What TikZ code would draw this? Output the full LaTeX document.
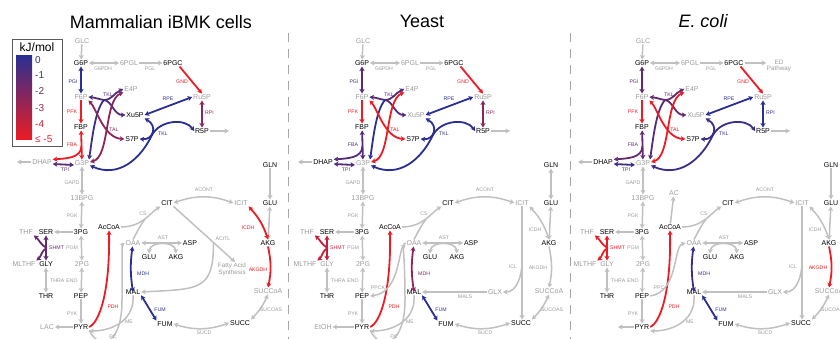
\documentclass[tikz,border=0pt]{standalone}
\usepackage{fontspec}
\setmainfont{Liberation Sans}
\usetikzlibrary{arrows.meta,calc}
\definecolor{kb}{RGB}{43,47,145}
\definecolor{kr}{RGB}{237,28,36}
\colorlet{k1}{kr!20!kb}
\colorlet{k2}{kr!40!kb}
\colorlet{k3}{kr!60!kb}
\colorlet{k4}{kr!80!kb}
\definecolor{tg}{RGB}{155,155,155}
\definecolor{ag}{RGB}{192,192,192}
\definecolor{sepc}{RGB}{165,165,165}
\definecolor{boxc}{RGB}{90,90,90}
\tikzset{
  hd/.tip={Stealth[length=4.5pt,width=5pt,inset=1.2pt]},
  met/.style={font=\fontsize{7}{8}\selectfont, inner sep=0.8pt, text=black},
  gmet/.style={met, text=tg},
  smalltxt/.style={font=\fontsize{6.3}{6.8}\selectfont, text=tg, align=center, inner sep=0.5pt},
  enz/.style={font=\fontsize{5.2}{6}\selectfont, inner sep=0pt},
  genz/.style={enz, text=tg},
  ga/.style={draw=ag, line width=1.5pt, -hd},
  gd/.style={draw=ag, line width=1.5pt, hd-hd},
  gl/.style={draw=ag, line width=1.5pt},
  ca/.style={draw=#1, line width=1.8pt, -hd},
  cd/.style={draw=#1, line width=1.8pt, hd-hd},
  ttl/.style={font=\fontsize{18}{20}\selectfont},
  legtxt/.style={font=\fontsize{10}{11}\selectfont, anchor=west, inner sep=0pt},
  sepline/.style={draw=sepc, line width=0.9pt, dash pattern=on 9pt off 7pt},
}
\newcommand\pancommon{%
\node[gmet] (glc) at (82,41) {GLC};
\node[met] (g6p) at (81,63) {G6P};
\node[gmet] (pgl6) at (129,63) {6PGL};
\node[met] (pgc6) at (173,63) {6PGC};
\node[gmet] (f6p) at (81,97) {F6P};
\node[met] (fbp) at (81,127) {FBP};
\node[gmet] (g3p) at (82,163) {G3P};
\node[met,text=\cDHAP] (dhap) at (42,162) {DHAP};
\node[gmet] (e4p) at (131,89) {E4P};
\node[met,text=\cXu] (xu5p) at (135,115) {Xu5P};
\node[met] (s7p) at (132,139) {S7P};
\node[gmet] (ru5p) at (202,97) {Ru5P};
\node[met] (r5p) at (202,131) {R5P};
\node[gmet] (bpg13) at (82,198) {13BPG};
\node[met] (pg3) at (81,232) {3PG};
\node[met] (ser) at (46,232) {SER};
\node[gmet] (thf) at (26,232) {THF};
\node[met,text=\cGLY] (gly) at (46,264) {GLY};
\node[gmet] (mlthf) at (24,264) {MLTHF};
\node[gmet] (pg2) at (82,264) {2PG};
\node[met] (pep) at (81,296) {PEP};
\node[met] (thr) at (46,296) {THR};
\node[met] (pyr) at (81,327) {PYR};
\node[met] (acoa) at (109,227) {AcCoA};
\node[met] (cit) at (167,203) {CIT};
\node[gmet] (icit) at (241,203) {ICIT};
\node[met] (akg) at (268,243) {AKG};
\node[met] (glu) at (270,203) {GLU};
\node[met] (gln) at (270,165) {GLN};
\node[gmet] (succoa) at (268,291) {SUCCoA};
\node[met] (succ) at (240,323) {SUCC};
\node[met] (fum) at (165,324) {FUM};
\node[met] (mal) at (133,292) {MAL};
\node[gmet] (oaa) at (133,243) {OAA};
\node[met] (asp) at (190,243) {ASP};
\node[met] (glua) at (149,257) {GLU};
\node[met] (akga) at (176,257) {AKG};
% upper glycolysis and PPP
\draw[ga] (glc) -- (g6p);
\draw[gd] (g6p) -- (pgl6);
\node[genz] (l-g6pdh) at (103,69) {G6PDH};
\draw[ga] (pgl6) -- (pgc6);
\node[genz] (l-pgl) at (150,69) {PGL};
\draw[ca=\cGND] ([xshift=-4pt]pgc6.south east) -- (ru5p.north);
\node[enz,text=\cGND] (l-gnd) at (182,82) {GND};
\draw[cd=\cRPI] (ru5p) -- (r5p);
\node[enz,text=\cRPI,anchor=west] (l-rpi) at (205,113) {RPI};
\coordinate (r5pout) at (229,131);
\draw[ga] (r5p) -- (r5pout);
\draw[cd=\cPGI] (g6p) -- (f6p);
\node[enz,text=\cPGI] (l-pgi) at (73,82) {PGI};
\draw[ca=\cPFK] (f6p) -- (fbp);
\node[enz,text=\cPFK] (l-pfk) at (72,112) {PFK};
\draw[cd=\cFBA] (fbp) -- (g3p);
\coordinate (fbaj) at (81.5,146);
\draw[ca=\cFBA] (fbaj) to[out=-90,in=5] ([yshift=2.5pt]dhap.east);
\node[enz,text=\cFBA] (l-fba) at (72,145) {FBA};
\draw[cd=\cTPI] ([yshift=-2pt]dhap.east) -- ([yshift=-2pt]g3p.west);
\node[enz,text=\cTPI] (l-tpi) at (65,169.5) {TPI};
\coordinate (dhapout) at (17,162);
\draw[ga] (dhap) -- (dhapout);
% TKL (F6P/E4P/Xu5P/G3P)
\coordinate (tkj) at (104,100);
\draw[ca=\cTKL] (tkj) to[out=170,in=-5] (f6p.east);
\draw[ca=\cTKL] (tkj) .. controls (112,100) and (114,93) .. (e4p.west);
\draw[ca=\cTKL] (tkj) .. controls (112,101) and (114,115) .. (xu5p.west);
\draw[ca=\cTKLt] (tkj) .. controls (95,110) and (92,140) .. ([xshift=-1pt]g3p.north east);
\node[enz,text=\cTKL] (l-tkl) at (108,95) {TKL};
% TAL
\draw[cd=\cTAL] (f6p.south east) .. controls (96,108) and (104,138) .. (s7p.west);
\draw[cd=\cTAL] ([yshift=1pt]g3p.east) .. controls (110,157) and (104,100) .. (e4p.south west);
\node[enz,text=\cTAL] (l-tal) at (114,130) {TAL};
% TKL (Xu5P/S7P/R5P/G3P)
\draw[cd=\cTKLb] (xu5p.south east) .. controls (158,126) and (153,140) .. (s7p.east);
\draw[cd=\cTKLb] ([yshift=-2.5pt]g3p.east) .. controls (118,178) and (140,160) .. (152,135) .. controls (160,120) and (185,118) .. (r5p.west);
\node[enz,text=\cTKLb] (l-tkl2) at (163,134) {TKL};
% RPE
\draw[cd=\cRPE] (xu5p.east) -- (ru5p.west);
\node[enz,text=\cRPE] (l-rpe) at (168,99) {RPE};
% lower glycolysis
\draw[gd] (g3p) -- (bpg13);
\node[genz] (l-gapd) at (72,183) {GAPD};
\draw[gd] (bpg13) -- (pg3);
\node[genz] (l-pgk) at (72,216) {PGK};
\draw[gd] (pg3) -- (pg2);
\node[genz] (l-pgm) at (72,248) {PGM};
\draw[gd] (pg2) -- (pep);
\node[genz] (l-eno) at (72,281) {ENO};
\draw[ga] (pep) -- (pyr);
\node[genz] (l-pyk) at (72,314) {PYK};
% serine / glycine
\draw[ga] (pg3) -- (ser);
\draw[cd=\cSHMT] (ser) -- (gly);
\coordinate (shj) at (46.5,248);
\draw[ca=\cSHMT] (shj) to[out=150,in=-40] (thf.south east);
\draw[ca=\cSHMT] (shj) to[out=-150,in=40] (mlthf.north east);
\node[enz,text=\cSHMT,anchor=west] (l-shmt) at (49,248) {SHMT};
\draw[gd] (gly) -- (thr);
\node[genz,anchor=west] (l-thra) at (50,281) {THRA};
% PDH
\draw[ca=\cPDH] (pyr.east) .. controls (100,322) and (110,290) .. (acoa.south);
\node[enz,text=\cPDH] (l-pdh) at (113,307) {PDH};
% TCA
\draw[ga] (acoa.east) .. controls (142,227) and (150,213) .. (cit.south west);
\coordinate (csj) at (145,219.3);
\draw[gl] (oaa.north) .. controls (137,232) and (141,224) .. (csj);
\node[genz] (l-cs) at (143,214) {CS};
\draw[gd] (cit.east) to[bend left=20] (icit.west);
\node[genz] (l-acont) at (204,190) {ACONT};
\draw[cd=\cMDH] (oaa) to[bend right=8] (mal);
\node[enz,text=\cMDH,anchor=west] (l-mdh) at (137,274) {MDH};
\draw[cd=\cFUM] (mal.south east) -- (fum.north west);
\node[enz,text=\cFUM] (l-fum) at (160,310) {FUM};
\draw[gd] (fum.east) to[bend right=18] (succ.west);
\node[genz] (l-sucd) at (204,333) {SUCD};
\draw[gd] (succoa.south) to[bend left=10] (succ.north east);
\node[genz] (l-sucoas) at (271,310) {SUCOAS};
\draw[gd] (oaa.east) -- (asp.west);
\node[genz] (l-ast) at (163,238) {AST};
\draw[gd] (glua.north) .. controls (150,241) and (175,241) .. (akga.north);
\draw[gd] (glu) -- (akg);
\draw[ga] (mal.south) .. controls (135,318) and (115,331) .. ([yshift=-4pt]pyr.east);
\node[genz] (l-me) at (129,322) {ME};
}
\begin{document}
\begin{tikzpicture}[x=1pt,y=-1pt]
\useasboundingbox (0,0) rectangle (840,339);
\clip (0,0) rectangle (840,339);
% titles
\node[ttl] (t1) at (161,22) {Mammalian iBMK cells};
\node[ttl] (t2) at (422,21) {Yeast};
\node[ttl,font=\fontsize{18}{20}\selectfont\itshape] (t3) at (703,21) {E. coli};
% separators
\coordinate (s1a) at (288,33); \coordinate (s1b) at (288,339);
\coordinate (s2a) at (570,33); \coordinate (s2b) at (570,339);
\draw[sepline] (s1a) -- (s1b);
\draw[sepline] (s2a) -- (s2b);
% legend
\node[draw=boxc, line width=0.9pt, minimum width=50pt, minimum height=107pt, inner sep=0pt] (legbox) at (37,92.5) {};
\node[font=\fontsize{12}{13}\selectfont, inner sep=0pt] (legt) at (37,47) {kJ/mol};
\shade[top color=kb, bottom color=kr] (16,56) rectangle (32,140);
\node[legtxt,text=kb] (lg0) at (35,60) {0};
\node[legtxt,text=k1] (lg1) at (35,75.5) {-1};
\node[legtxt,text=k2] (lg2) at (35,91.5) {-2};
\node[legtxt,text=k3] (lg3) at (35,108) {-3};
\node[legtxt,text=k4] (lg4) at (35,124) {-4};
\node[legtxt,text=kr] (lg5) at (35,139.5) {≤ -5};
% ---------------- Mammalian
\begin{scope}[name prefix=m-]
\def\cGND{kr}\def\cRPI{k2!50!k3}\def\cPGI{kb}\def\cPFK{kr}\def\cFBA{kr}\def\cTPI{k1}
\def\cTKL{k1}\def\cTKLt{kb!50!k1}\def\cTAL{k2!50!k3}\def\cTKLb{kb}\def\cRPE{kb}
\def\cSHMT{k1!50!k2}\def\cPDH{kr}\def\cMDH{kb}\def\cFUM{kb}
\def\cDHAP{tg}\def\cXu{black}\def\cGLY{black}
\pancommon
\node[gmet] (lac) at (47,327) {LAC};
\draw[ga] (pyr) -- (lac);
\draw[ga] (gln) -- (glu);
\draw[cd=kr] (icit.south east) to[bend left=12] (akg.north);
\node[enz,text=kr] (l-icdh) at (248,228) {ICDH};
\draw[ca=kr] (akg.south) to[bend left=12] (succoa.north);
\node[enz,text=kr] (l-akgdh) at (258,270) {AKGDH};
\node[smalltxt] (fas) at (232,269) {Fatty Acid\\Synthesis};
\draw[ga] (cit.south east) -- ([xshift=3pt]fas.north);
\node[genz] (l-acitl) at (223,239) {ACITL};
\coordinate (acj) at ($(cit.south east)!0.65!([xshift=3pt]fas.north)$);
\draw[ga] (acj) .. controls ($(acj)+(0,48)$) and (200,289) .. (mal.east);
\draw[ga] (pyr.south east) .. controls (100,352) and (122,345) .. (122,300) .. controls (122,262) and (122,245) .. (oaa.west);
\node[genz] (l-pc) at (113,337) {PC};
\end{scope}
% ---------------- Yeast
\begin{scope}[shift={(281,0)}, name prefix=y-]
\def\cGND{kr}\def\cRPI{k2!50!k3}\def\cPGI{k1}\def\cPFK{kr}\def\cFBA{k1}\def\cTPI{k1}
\def\cTKL{k1}\def\cTKLt{kb}\def\cTAL{kr}\def\cTKLb{kb}\def\cRPE{kb}
\def\cSHMT{k4}\def\cPDH{kr}\def\cMDH{k2!50!k3}\def\cFUM{kb}
\def\cDHAP{black}\def\cXu{tg}\def\cGLY{tg}
\pancommon
\node[gmet] (etoh) at (42,327) {EtOH};
\draw[ga] (pyr) -- (etoh);
\draw[gd] (gln) -- (glu);
\draw[gd] (icit.south east) to[bend left=12] (akg.north);
\node[genz] (l-icdh) at (254,230) {ICDH};
\draw[ga] (akg.south) to[bend left=12] (succoa.north);
\node[genz] (l-akgdh) at (257,268) {AKGDH};
\node[gmet] (glx) at (214,292) {GLX};
\draw[ga] (icit.south) -- (icit.south |- succ.north);
\coordinate (iclj) at (241,262);
\draw[ga] (iclj) to[out=-90,in=0] (glx.east);
\node[genz] (l-icl) at (232,267) {ICL};
\draw[ga] (glx) -- (mal);
\node[genz] (l-mals) at (184,297) {MALS};
\draw[ga] (oaa.west) .. controls (116,246) and (121,292) .. (pep.east);
\node[genz] (l-ppck) at (97,288) {PPCK};
\draw[ga] (pyr.south east) .. controls (100,352) and (124,345) .. (124,300) .. controls (124,262) and (122,247) .. ([yshift=-2pt]oaa.west);
\node[genz] (l-pc) at (113,337) {PC};
\end{scope}
% ---------------- E. coli
\begin{scope}[shift={(561,0)}, name prefix=e-]
\def\cGND{kr}\def\cRPI{kb}\def\cPGI{k1!50!k2}\def\cPFK{kr}\def\cFBA{k1!50!k2}\def\cTPI{kb!50!k1}
\def\cTKL{k1!50!k2}\def\cTKLt{k1}\def\cTAL{kr}\def\cTKLb{kb!50!k1}\def\cRPE{kb}
\def\cSHMT{kr}\def\cPDH{kr}\def\cMDH{kb!50!k1}\def\cFUM{kb}
\def\cDHAP{black}\def\cXu{tg}\def\cGLY{tg}
\pancommon
\node[smalltxt] (ed) at (218,66) {ED\\Pathway};
\draw[ga] (pgc6) -- (pgc6.east -| ed.west);
\node[gmet] (ac) at (113,193) {AC};
\draw[ga] (acoa) -- (ac);
\draw[ga] (pep.east) .. controls (118,292) and (112,246) .. (oaa.west);
\node[genz] (l-ppc) at (98,288) {PPC};
\coordinate (pyrout) at (57,327);
\draw[ga] (pyr) -- (pyrout);
\draw[ga] (gln) -- (glu);
\draw[gd] (icit.south east) to[bend left=12] (akg.north);
\node[genz] (l-icdh) at (254,230) {ICDH};
\draw[ca=kr] (akg.south) to[bend left=12] (succoa.north);
\node[enz,text=kr] (l-akgdh) at (257,268) {AKGDH};
\node[gmet] (glx) at (214,292) {GLX};
\draw[ga] (icit.south) -- (icit.south |- succ.north);
\coordinate (iclj) at (241,262);
\draw[ga] (iclj) to[out=-90,in=0] (glx.east);
\node[genz] (l-icl) at (232,267) {ICL};
\draw[ga] (glx) -- (mal);
\node[genz] (l-mals) at (184,297) {MALS};
\end{scope}
\end{tikzpicture}
\end{document}
